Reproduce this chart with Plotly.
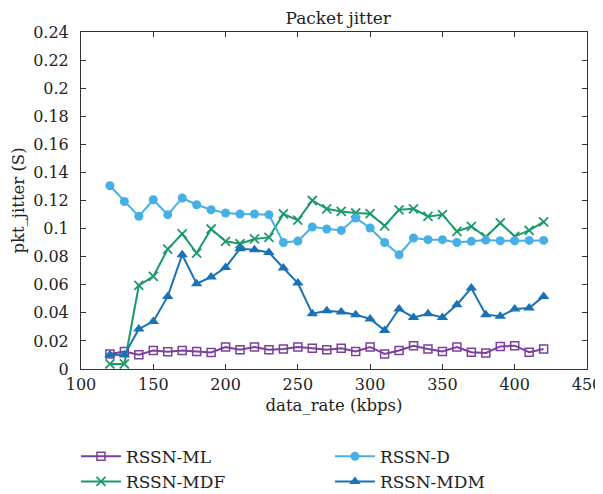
import plotly.graph_objects as go

data_rate = [120, 130, 140, 150, 160, 170, 180, 190, 200, 210, 220, 230, 240, 250, 260,
             270, 280, 290, 300, 310, 320, 330, 340, 350, 360, 370, 380, 390, 400, 410, 420]

rssn_ml = [0.0107, 0.0125, 0.0102, 0.0132, 0.0123, 0.0132, 0.0125, 0.0118, 0.0157, 0.0137,
           0.0157, 0.0137, 0.0142, 0.0157, 0.0147, 0.0137, 0.0147, 0.0125, 0.0157, 0.0107,
           0.0132, 0.0166, 0.0142, 0.0125, 0.0157, 0.0120, 0.0114, 0.0161, 0.0166, 0.0120, 0.0142]

rssn_mdf = [0.0036, 0.0036, 0.0595, 0.0659, 0.0854, 0.0963, 0.0826, 0.0997, 0.0909, 0.0892,
            0.0926, 0.0937, 0.1104, 0.1060, 0.1200, 0.1141, 0.1122, 0.1111, 0.1106, 0.1020,
            0.1134, 0.1141, 0.1087, 0.1099, 0.0980, 0.1015, 0.0940, 0.1040, 0.0944, 0.0987, 0.1047]

rssn_d = [0.1305, 0.1193, 0.1087, 0.1205, 0.1099, 0.1218, 0.1170, 0.1134, 0.1111, 0.1104,
          0.1104, 0.1099, 0.0901, 0.0911, 0.1011, 0.0997, 0.0987, 0.1075, 0.1004, 0.0901,
          0.0814, 0.0933, 0.0921, 0.0921, 0.0901, 0.0909, 0.0918, 0.0913, 0.0913, 0.0916, 0.0916]

rssn_mdm = [0.0102, 0.0099, 0.0285, 0.0339, 0.0517, 0.0814, 0.0607, 0.0655, 0.0723, 0.0857,
            0.0850, 0.0830, 0.0719, 0.0612, 0.0394, 0.0415, 0.0406, 0.0387, 0.0356, 0.0275,
            0.0427, 0.0367, 0.0394, 0.0367, 0.0458, 0.0577, 0.0387, 0.0375, 0.0427, 0.0434, 0.0517]

x_ticks = [100, 150, 200, 250, 300, 350, 400, 450]
y_ticks = [0, 0.02, 0.04, 0.06, 0.08, 0.1, 0.12, 0.14, 0.16, 0.18, 0.2, 0.22, 0.24]
y_tick_labels = ["0", "0.02", "0.04", "0.06", "0.08", "0.1", "0.12", "0.14", "0.16",
                 "0.18", "0.2", "0.22", "0.24"]

FONT = "DejaVu Serif"
TXT = "#222222"

fig = go.Figure()

fig.add_trace(go.Scatter(
    x=data_rate, y=rssn_ml, name="RSSN-ML", mode="lines+markers", legendrank=1,
    line=dict(color="#7a409b", width=2),
    marker=dict(symbol="square-open", size=8, color="#7a409b", line=dict(width=1.5)),
))
fig.add_trace(go.Scatter(
    x=data_rate, y=rssn_mdf, name="RSSN-MDF", mode="lines+markers", legendrank=3,
    line=dict(color="#1b9a6b", width=2),
    marker=dict(symbol="x-thin", size=9, color="#1b9a6b", line=dict(width=1.8, color="#1b9a6b")),
))
fig.add_trace(go.Scatter(
    x=data_rate, y=rssn_d, name="RSSN-D", mode="lines+markers", legendrank=2,
    line=dict(color="#45b0e5", width=2),
    marker=dict(symbol="circle", size=9, color="#45b0e5"),
))
fig.add_trace(go.Scatter(
    x=data_rate, y=rssn_mdm, name="RSSN-MDM", mode="lines+markers", legendrank=4,
    line=dict(color="#1a72b5", width=2),
    marker=dict(symbol="triangle-up", size=10, color="#1a72b5"),
))

axis_common = dict(
    showline=True, linecolor="#333333", linewidth=1, mirror="ticks",
    ticks="inside", ticklen=5, tickcolor="#333333", showgrid=False, zeroline=False,
    tickfont=dict(family=FONT, size=16, color=TXT),
)

fig.update_xaxes(
    range=[100, 450], tickvals=x_ticks, ticklabelstandoff=1,
    title=dict(text="data_rate (kbps)", font=dict(family=FONT, size=16.5, color=TXT), standoff=6),
    **axis_common,
)
fig.update_yaxes(
    range=[0, 0.24], tickvals=y_ticks, ticktext=y_tick_labels, ticklabelstandoff=8,
    title=dict(text="pkt_jitter (S)", font=dict(family=FONT, size=16.5, color=TXT), standoff=4),
    **axis_common,
)

fig.update_layout(
    width=595, height=486,
    margin=dict(l=73, r=16, t=24, b=125, autoexpand=False),
    paper_bgcolor="white", plot_bgcolor="white",
    title=dict(text="Packet jitter", x=0.555, xanchor="center", y=0.979, yanchor="middle",
               font=dict(family=FONT, size=17, color=TXT)),
    legend=dict(
        orientation="h", x=-0.01, xanchor="left", y=-0.207, yanchor="top",
        entrywidth=199, entrywidthmode="pixels", traceorder="normal",
        font=dict(family=FONT, size=17, color=TXT), itemwidth=40, tracegroupgap=0,
    ),
)

fig.write_html("out.html")
